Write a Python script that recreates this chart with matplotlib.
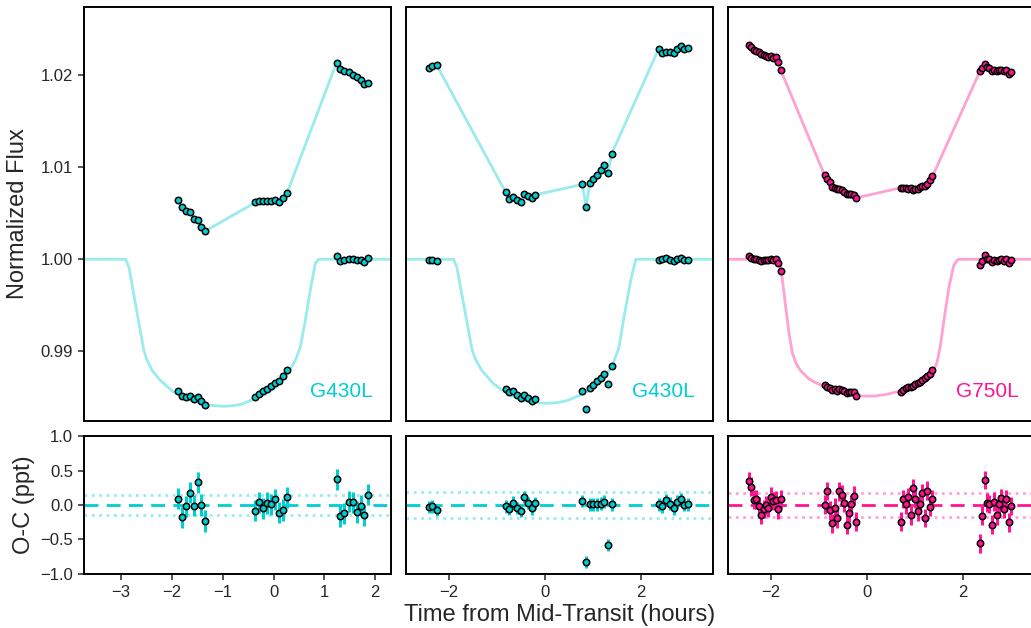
import numpy as np
import matplotlib
matplotlib.use('Agg')
import matplotlib.pyplot as plt

plt.rcParams['font.family'] = ['Liberation Sans', 'DejaVu Sans']
plt.rcParams['text.color'] = '#262626'
plt.rcParams['axes.labelcolor'] = '#262626'
plt.rcParams['xtick.color'] = '#262626'
plt.rcParams['ytick.color'] = '#262626'

# Colores
cian = '#00CED1'
rosa = '#FF1493'

# ---------------- Panel 1: G430L (visita 1) ----------------
t_v1 = [-1.878, -1.800, -1.715, -1.636, -1.572, -1.493, -1.426, -1.342,
        -0.360, -0.281, -0.202, -0.124, -0.045, 0.033, 0.112, 0.190, 0.263,
        1.238, 1.297, 1.389, 1.473, 1.552, 1.631, 1.709, 1.776, 1.855]
crudo_v1 = [1.00638, 1.00562, 1.00525, 1.00514, 1.00442, 1.00431, 1.00351, 1.00308,
            1.00616, 1.00627, 1.00630, 1.00634, 1.00627, 1.00641, 1.00623, 1.00663, 1.00717,
            1.02134, 1.02065, 1.02043, 1.02033, 1.02000, 1.01975, 1.01949, 1.01899, 1.01910]
corr_v1 = [0.98576, 0.98518, 0.98511, 0.98518, 0.98486, 0.98503, 0.98467, 0.98424,
           0.98511, 0.98540, 0.98568, 0.98595, 0.98623, 0.98655, 0.98685, 0.98732, 0.98804,
           1.00036, 0.99978, 0.99997, 1.00008, 1.00000, 0.99989, 0.99992, 0.99975, 1.00014]
resid_v1 = [0.09, -0.18, -0.02, 0.18, -0.01, 0.33, 0.00, -0.23,
            -0.08, 0.04, -0.05, 0.03, 0.01, 0.08, -0.11, -0.07, 0.11,
            0.37, -0.16, -0.12, 0.05, 0.04, -0.10, -0.01, -0.15, 0.15]
err_v1 = 0.155
disp_v1 = 0.14
tmod_v1 = [-3.73, -2.914, -2.848, -2.554, -2.488, -2.389, -2.226, -1.965, -1.800, -1.637,
           -1.473, -1.308, -1.145, -0.982, -0.818, -0.654, -0.491, -0.326, -0.163, 0.0,
           0.132, 0.263, 0.348, 0.426, 0.525, 0.623, 0.721, 0.819, 0.884, 2.31]
fmod_v1 = [1.0, 1.0, 0.99917, 0.99011, 0.98902, 0.98793, 0.98685, 0.98558, 0.98510, 0.98467,
           0.98445, 0.98421, 0.98412, 0.98406, 0.98412, 0.98424, 0.98460, 0.98492, 0.98542,
           0.98595, 0.98672, 0.98758, 0.98829, 0.98902, 0.99047, 0.99337, 0.99663, 0.99953,
           1.0, 1.0]

# ---------------- Panel 2: G430L (visita 2) ----------------
t_v2 = [-2.42, -2.35, -2.26,
        -0.824, -0.747, -0.663, -0.586, -0.510, -0.433, -0.356, -0.280, -0.203,
        0.774, 0.858, 0.927, 1.004, 1.080, 1.157, 1.234, 1.310, 1.387,
        2.364, 2.439, 2.517, 2.594, 2.678, 2.747, 2.824, 2.900, 2.983]
crudo_v2 = [1.02073, 1.02095, 1.02105,
            1.00728, 1.00655, 1.00671, 1.00641, 1.00616, 1.00707, 1.00688, 1.00663, 1.00699,
            1.00812, 1.00562, 1.00829, 1.00870, 1.00916, 1.00967, 1.01025, 1.00931, 1.01145,
            1.02279, 1.02236, 1.02250, 1.02253, 1.02239, 1.02283, 1.02308, 1.02286, 1.02297]
corr_v2 = [0.99992, 0.99997, 0.99978,
           0.98595, 0.98558, 0.98569, 0.98533, 0.98497, 0.98529, 0.98497, 0.98467, 0.98482,
           0.98569, 0.98373, 0.98609, 0.98641, 0.98677, 0.98710, 0.98758, 0.98649, 0.98848,
           0.99997, 1.00000, 1.00014, 0.99997, 0.99978, 1.00008, 1.00018, 0.99992, 0.99997]
resid_v2 = [-0.03, -0.02, -0.07,
            -0.02, -0.06, 0.035, -0.04, -0.08, 0.12, 0.025, -0.05, 0.025,
            0.06, -0.83, 0.01, 0.01, 0.01, 0.02, 0.05, -0.58, 0.01,
            0.01, -0.02, 0.07, 0.02, -0.05, 0.05, 0.08, 0.00, 0.01]
err_v2 = 0.09
disp_v2 = 0.19
tmod_v2 = [-2.9, -1.912, -1.841, -1.527, -1.458, -1.318, -1.075, -0.900, -0.726, -0.552,
           -0.377, -0.167, 0.042, 0.251, 0.460, 0.634, 0.808, 0.983, 1.157, 1.282, 1.402,
           1.540, 1.644, 1.785, 1.889, 3.5]
fmod_v2 = [1.0, 1.0, 0.99917, 0.99029, 0.98921, 0.98793, 0.98649, 0.98582, 0.98522, 0.98492,
           0.98460, 0.98445, 0.98438, 0.98445, 0.98467, 0.98507, 0.98540, 0.98601, 0.98666,
           0.98753, 0.98848, 0.99047, 0.99373, 0.99772, 1.0, 1.0]

# ---------------- Panel 3: G750L ----------------
t_v3 = [-2.458, -2.408, -2.354, -2.304, -2.256, -2.208, -2.152, -2.104, -2.054, -2.006,
        -1.950, -1.902, -1.854, -1.798,
        -0.881, -0.819, -0.763, -0.721, -0.667, -0.617, -0.569, -0.521, -0.465, -0.417,
        -0.367, -0.319, -0.271, -0.215,
        0.708, 0.758, 0.813, 0.863, 0.917, 0.967, 1.015, 1.063, 1.113, 1.160,
        1.217, 1.265, 1.321, 1.369,
        2.363, 2.410, 2.458, 2.508, 2.556, 2.604, 2.660, 2.708, 2.758, 2.806,
        2.863, 2.910, 2.958, 3.015]
crudo_v3 = [1.02326, 1.02304, 1.02275, 1.02264, 1.02250, 1.02228, 1.02217, 1.02203, 1.02196,
            1.02207, 1.02188, 1.02193, 1.02145, 1.02058,
            1.00913, 1.00866, 1.00833, 1.00786, 1.00775, 1.00757, 1.00761, 1.00747, 1.00732,
            1.00703, 1.00710, 1.00707, 1.00696, 1.00667,
            1.00775, 1.00772, 1.00768, 1.00764, 1.00768, 1.00750, 1.00764, 1.00761, 1.00779,
            1.00793, 1.00797, 1.00818, 1.00855, 1.00899,
            1.02043, 1.02079, 1.02116, 1.02087, 1.02079, 1.02047, 1.02058, 1.02043, 1.02054,
            1.02058, 1.02047, 1.02058, 1.02014, 1.02033]
corr_v3 = [1.00033, 1.00018, 1.00008, 1.00000, 0.99992, 0.99986, 0.99989, 0.99992, 0.99989,
           1.00000, 0.99992, 1.00008, 0.99964, 0.99877,
           0.98641, 0.98620, 0.98601, 0.98583, 0.98590, 0.98576, 0.98590, 0.98579, 0.98568,
           0.98547, 0.98558, 0.98565, 0.98558, 0.98522,
           0.98565, 0.98583, 0.98601, 0.98612, 0.98620, 0.98630, 0.98645, 0.98663, 0.98674,
           0.98696, 0.98714, 0.98732, 0.98758, 0.98804,
           0.99942, 0.99986, 1.00043, 1.00008, 1.00000, 0.99971, 0.99992, 0.99982, 0.99992,
           1.00000, 0.99986, 1.00000, 0.99964, 0.99989]
resid_v3 = [0.347, 0.265, 0.077, 0.082, -0.014, -0.140, -0.058, -0.005, -0.043, 0.120,
            0.058, 0.067, -0.063, 0.087,
            0.005, 0.202, -0.077, -0.265, -0.039, -0.193, 0.198, 0.149, 0.029, -0.284,
            -0.111, 0.014, 0.135, -0.241,
            -0.241, 0.087, 0.010, 0.111, -0.149, 0.241, 0.092, -0.092, 0.010, 0.169,
            -0.188, 0.207, -0.024, 0.087,
            -0.554, -0.154, 0.361, 0.034, 0.014, -0.284, 0.048, -0.149, 0.014, 0.096,
            -0.058, 0.087, -0.251, -0.014]
err_v3 = 0.135
disp_v3 = 0.17
tmod_v3 = [-2.9, -1.8125, -1.763, -1.694, -1.625, -1.555, -1.485, -1.437, -1.381, -1.208,
           -1.069, -0.929, -0.790, -0.652, -0.444, -0.235, -0.027, 0.181, 0.390, 0.598,
           0.737, 0.875, 1.015, 1.154, 1.292, 1.396, 1.465, 1.535, 1.604, 1.708, 1.813,
           1.904, 3.71]
fmod_v3 = [1.0, 1.0, 0.99790, 0.99500, 0.99210, 0.98992, 0.98884, 0.98837, 0.98793, 0.98703,
           0.98663, 0.98630, 0.98594, 0.98565, 0.98540, 0.98522, 0.98516, 0.98518, 0.98533,
           0.98558, 0.98576, 0.98601, 0.98630, 0.98667, 0.98721, 0.98793, 0.98884, 0.99065,
           0.99319, 0.99681, 0.99935, 1.0, 1.0]

# El tercer panel queda recortado por el borde derecho de la figura
paneles = [
    dict(t=t_v1, crudo=crudo_v1, corr=corr_v1, resid=resid_v1, err=err_v1, disp=disp_v1,
         tmod=tmod_v1, fmod=fmod_v1, color=cian, nombre='G430L', ancho=0.2978,
         texto_x=0.94, xlim=(-3.73, 2.31), xticks=[-3, -2, -1, 0, 1, 2]),
    dict(t=t_v2, crudo=crudo_v2, corr=corr_v2, resid=resid_v2, err=err_v2, disp=disp_v2,
         tmod=tmod_v2, fmod=fmod_v2, color=cian, nombre='G430L', ancho=0.2978,
         texto_x=0.94, xlim=(-2.9, 3.5), xticks=[-2, 0, 2]),
    dict(t=t_v3, crudo=crudo_v3, corr=corr_v3, resid=resid_v3, err=err_v3, disp=disp_v3,
         tmod=tmod_v3, fmod=fmod_v3, color=rosa, nombre='G750L', ancho=0.3075,
         texto_x=0.918, xlim=(-2.9, 3.71), xticks=[-2, 0, 2]),
]

fig = plt.figure(figsize=(10.31, 6.28), dpi=100)

izquierdas = [0.0815, 0.3938, 0.7058]

for i, p in enumerate(paneles):
    ax = fig.add_axes([izquierdas[i], 0.3296, p['ancho'], 0.6592])
    axr = fig.add_axes([izquierdas[i], 0.086, p['ancho'], 0.2197])
    c = p['color']

    # Curva cruda (unida) y modelo de transito
    ax.plot(p['t'], p['crudo'], color=c, alpha=0.4, lw=2, zorder=1)
    ax.plot(p['tmod'], p['fmod'], color=c, alpha=0.4, lw=2, zorder=1,
            solid_joinstyle='round')
    ax.plot(p['t'], p['crudo'], 'o', ms=4.6, mfc=c, mec='black', mew=1.1, zorder=3)
    ax.plot(p['t'], p['corr'], 'o', ms=4.6, mfc=c, mec='black', mew=1.1, zorder=3)
    ax.text(p['texto_x'], 0.072, p['nombre'], color=c, fontsize=15, ha='right',
            va='center', transform=ax.transAxes)
    ax.set_xlim(p['xlim'])
    ax.set_ylim(0.98246, 1.02736)
    ax.tick_params(bottom=False, labelbottom=False)

    # Residuos
    axr.axhline(0, color=c, lw=2, ls=(0, (5, 3)), zorder=1)
    axr.axhline(p['disp'], color=c, alpha=0.4, lw=2, ls=':', zorder=1)
    axr.axhline(-p['disp'], color=c, alpha=0.4, lw=2, ls=':', zorder=1)
    axr.errorbar(p['t'], p['resid'], yerr=p['err'], fmt='o', ms=4.6, mfc=c, mec='black',
                 mew=1.1, ecolor=c, elinewidth=2.2, capsize=0, zorder=3)
    axr.set_xlim(p['xlim'])
    axr.set_ylim(-1, 1)
    axr.set_xticks(p['xticks'])
    axr.set_yticks([-1.0, -0.5, 0.0, 0.5, 1.0])

    for a in (ax, axr):
        for s in a.spines.values():
            s.set_linewidth(1.4)
            s.set_color('black')
        a.tick_params(labelsize=12, length=4.5, width=1.1)

    if i == 0:
        ax.set_yticks([0.99, 1.00, 1.01, 1.02])
        ax.set_yticklabels(['0.99', '1.00', '1.01', '1.02'])
        ax.set_ylabel('Normalized Flux', fontsize=17, labelpad=8)
        axr.set_ylabel('O-C (ppt)', fontsize=17, labelpad=4)
    else:
        ax.tick_params(left=False, labelleft=False)
        axr.tick_params(left=False, labelleft=False)
    if i == 1:
        axr.set_xlabel('Time from Mid-Transit (hours)', fontsize=17, labelpad=3)

fig.savefig('out.png', dpi=100)
